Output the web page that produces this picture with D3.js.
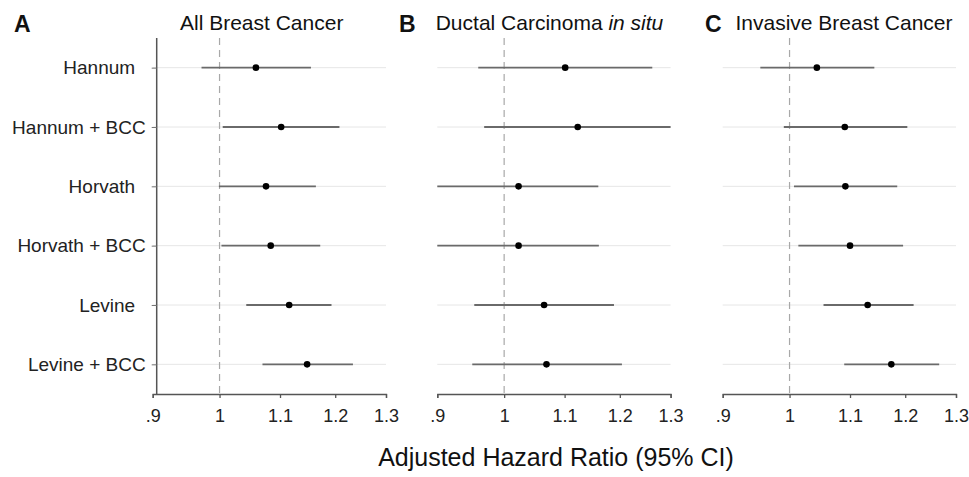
<!DOCTYPE html>
<html>
<head>
<meta charset="utf-8">
<script src="https://cdn.jsdelivr.net/npm/d3@7"></script>
<style>
  html, body { margin: 0; padding: 0; background: #fff; }
  svg { display: block; font-family: "Liberation Sans", Arial, Helvetica, sans-serif; }
  .lbl { white-space: pre; }
</style>
</head>
<body>
<svg id="chart" width="969" height="477"></svg>
<script>
// ---------------- data ----------------
const models = ["Hannum  ", "Hannum + BCC", "Horvath  ", "Horvath + BCC", "Levine  ", "Levine + BCC"];
const panelLetters = ["A", "B", "C"];
const panelTitles = ["All Breast Cancer", "Ductal Carcinoma ", "Invasive Breast Cancer"];
const panelTitleItalic = ["", "in situ", ""];
const tickValues = [0.9, 1.0, 1.1, 1.2, 1.3];

// hazard ratio point estimates and 95% CI per panel (rows in order of models)
const hrAll      = [1.059, 1.102, 1.076, 1.084, 1.116, 1.148];
const loAll      = [0.972, 1.005, 0.999, 1.003, 1.043, 1.070];
const hiAll      = [1.155, 1.208, 1.164, 1.172, 1.193, 1.234];

const hrDcis     = [1.101, 1.123, 1.023, 1.023, 1.065, 1.069];
const loDcis     = [0.960, 0.969, 0.900, 0.900, 0.954, 0.951];
const hiDcis     = [1.263, 1.300, 1.160, 1.161, 1.189, 1.204];

const hrInvasive = [1.044, 1.091, 1.092, 1.100, 1.131, 1.174];
const loInvasive = [0.955, 0.991, 1.007, 1.014, 1.055, 1.090];
const hiInvasive = [1.143, 1.204, 1.185, 1.196, 1.216, 1.266];

const panelData = [
  {hr: hrAll, lo: loAll, hi: hiAll},
  {hr: hrDcis, lo: loDcis, hi: hiDcis},
  {hr: hrInvasive, lo: loInvasive, hi: hiInvasive}
];

// ---------------- layout ----------------
const panelX0 = [152.7, 437.3, 722.7];
const panelW = 233.3;
const plotTop = 38, plotBottom = 394;
const titleCenters = [261.7, 549.5, 844];
const letterX = [14, 399, 705];

const svg = d3.select("#chart");

const y = d3.scalePoint().domain(models).range([plotTop, plotBottom]).padding(0.5);

const fmt = d => d < 1 ? String(d).replace(/^0/, "") : String(d);

panelData.forEach((pd, p) => {
  const x = d3.scaleLog().domain([0.9, 1.3]).range([panelX0[p], panelX0[p] + panelW]);
  const g = svg.append("g");

  // grid lines
  g.selectAll("line.grid").data(models).join("line")
    .attr("x1", x(0.9)).attr("x2", x(1.3))
    .attr("y1", d => y(d)).attr("y2", d => y(d))
    .attr("stroke", "#e6e6e6").attr("stroke-width", 1);

  // reference line at HR = 1
  g.append("line")
    .attr("x1", x(1)).attr("x2", x(1))
    .attr("y1", plotTop).attr("y2", plotBottom)
    .attr("stroke", "#a8a8a8").attr("stroke-width", 1.2)
    .attr("stroke-dasharray", "7,5");

  // x axis
  const xAxis = d3.axisBottom(x).tickValues(tickValues).tickFormat(fmt).tickSize(4).tickPadding(11);
  const ax = g.append("g").attr("transform", `translate(0,${plotBottom})`).call(xAxis);
  ax.select(".domain").attr("stroke", "#555").attr("stroke-width", 1.3);
  ax.selectAll(".tick line").attr("stroke", "#555").attr("stroke-width", 1.3);
  ax.selectAll(".tick text").attr("font-size", 18).attr("fill", "#222")
    .attr("font-family", "'Liberation Sans', Arial, sans-serif");

  // y axis only on first panel
  if (p === 0) {
    const yAxis = d3.axisLeft(y).tickSize(5).tickPadding(6).tickSizeOuter(0);
    const ay = g.append("g").attr("transform", `translate(${x(0.9) + 4},0)`).call(yAxis);
    ay.select(".domain").attr("stroke", "#555").attr("stroke-width", 1.5)
      .attr("d", `M0,${plotTop}V${plotBottom}`);
    ay.selectAll(".tick line").attr("stroke", "#777").attr("stroke-width", 1);
    ay.selectAll(".tick text").attr("font-size", 19).attr("fill", "#222")
      .attr("class", "lbl")
      .attr("font-family", "'Liberation Sans', Arial, sans-serif");
  }

  // CI lines
  g.selectAll("line.ci").data(models).join("line")
    .attr("x1", (d, i) => x(pd.lo[i])).attr("x2", (d, i) => x(pd.hi[i]))
    .attr("y1", d => y(d)).attr("y2", d => y(d))
    .attr("stroke", "#6a6a6a").attr("stroke-width", 1.8);

  // points
  g.selectAll("circle").data(models).join("circle")
    .attr("cx", (d, i) => x(pd.hr[i])).attr("cy", d => y(d))
    .attr("r", 3.3).attr("fill", "#000");

  // panel letter
  svg.append("text").attr("x", letterX[p]).attr("y", 32)
    .attr("font-size", 23).attr("font-weight", "bold").attr("fill", "#111")
    .text(panelLetters[p]);

  // panel title
  const t = svg.append("text").attr("x", titleCenters[p]).attr("y", 30)
    .attr("text-anchor", "middle").attr("font-size", 21).attr("fill", "#111")
    .attr("class", "lbl");
  t.append("tspan").text(panelTitles[p]);
  if (panelTitleItalic[p]) t.append("tspan").attr("font-style", "italic").text(panelTitleItalic[p]);
});

// x axis title
svg.append("text").attr("x", 556).attr("y", 466).attr("text-anchor", "middle")
  .attr("font-size", 25).attr("fill", "#111")
  .text("Adjusted Hazard Ratio (95% CI)");
</script>
</body>
</html>
